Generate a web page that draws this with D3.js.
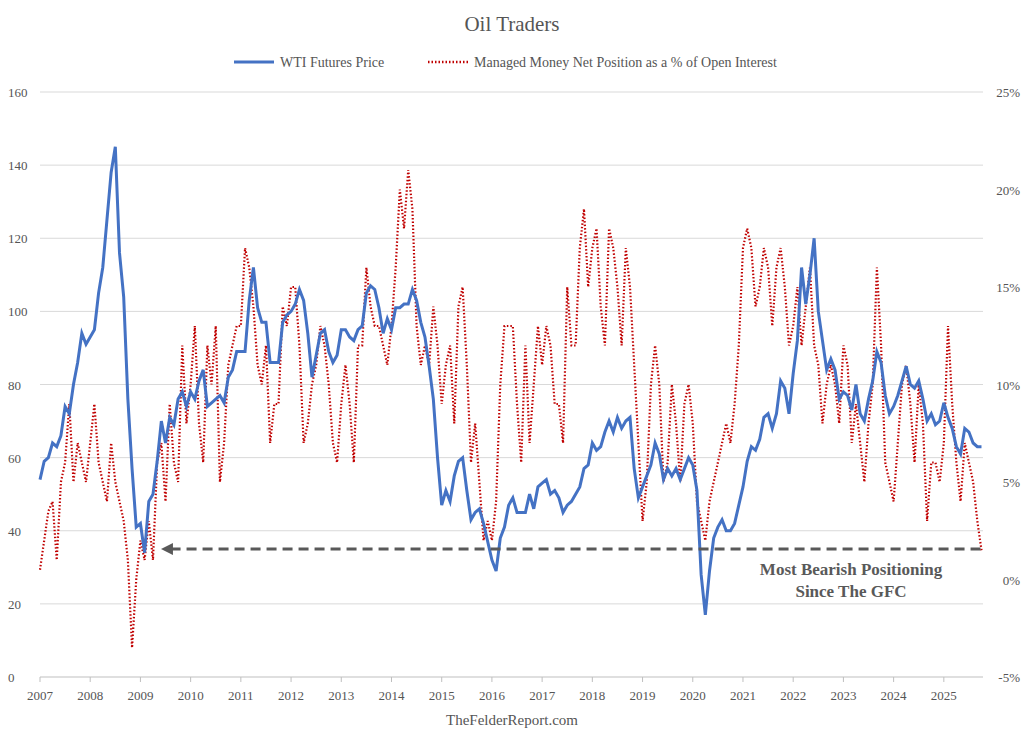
<!DOCTYPE html>
<html><head><meta charset="utf-8">
<script src="https://cdn.jsdelivr.net/npm/d3@7"></script>
<style>body{margin:0;background:#fff}text{font-family:"Liberation Serif","DejaVu Serif",serif}</style>
</head><body><svg id="c" width="1024" height="744"></svg>
<script>
const startYear = 2007;
const years = d3.range(2007, 2026);
const leftTicks = [0,20,40,60,80,100,120,140,160];
const rightTicks = [-5,0,5,10,15,20,25];
// monthly WTI futures price, Jan 2007 onward
const wti = [
54,59,60,64,63,66,74,72,80,86,94,91,
93,95,105,112,125,138,145,116,104,76,57,41,
42,34,48,50,59,70,64,71,69,76,78,74,
78,76,81,84,74,75,76,77,75,82,84,89,
89,89,103,112,101,97,97,86,86,86,97,99,
100,102,106,103,94,82,88,94,95,89,86,88,
95,95,93,92,95,96,105,107,106,101,94,98,
95,101,101,102,102,106,103,97,93,85,76,60,
47,51,48,55,59,60,51,43,45,46,42,37,
32,29,38,41,47,49,45,45,45,50,46,52,
53,54,50,51,49,45,47,48,50,52,57,58,
64,62,63,67,70,67,71,68,70,71,57,49,
52,55,58,64,61,54,57,55,57,54,57,60,
58,51,28,17,29,38,41,43,40,40,42,47,
52,59,63,62,65,71,72,68,72,81,79,72,
83,92,112,102,110,120,100,92,84,87,84,76,
78,77,73,80,72,70,76,81,89,86,77,72,
74,77,81,85,80,79,81,76,70,72,69,70,
75,71,68,63,61,68,67,64,63,63];
// monthly managed money net position, % of open interest
const mmPct = [
0.5,2,3.5,4,1,5,6,9,5,7,6,5,
7,9,6,5,4,7,5,4,3,1,-3.5,0,
2,1,3,1,6,7,4,9,6,5,12,8,
10,13,8,6,12,10,13,5,7,11,12,13,
13,17,16,14,11,10,12,7,9,9,14,13,
15,15,12,7,8,10,11,13,12,10,7,6,
9,11,9,6,12,12,16,14,13,13,12,11,
13,16,20,18,21,19,13,11,12,11,14,12,
9,11,12,8,14,15,11,6,8,5,2,3,
2,4,10,13,13,13,9,6,12,7,10,13,
11,13,12,9,9,7,15,12,12,17,19,15,
17,18,14,12,18,17,15,12,17,15,11,7,
3,5,10,12,10,5,6,10,8,5,9,10,
8,4,3,2,4,5,6,7,8,7,9,12,
17,18,17,14,15,17,16,13,16,17,15,12,
13,15,12,14,16,12,11,8,10,11,10,8,
12,11,7,9,7,5,8,10,16,12,6,5,
4,7,10,11,9,6,10,8,3,6,6,5,
7,13,9,6,4,7,6,5,3,1.5];
const arrowLevel = 35, arrowFrom = 2009.6;

const svg = d3.select("#c");
const L=40,R=983,T=92,B=677;
const x = d3.scaleLinear().domain([2007,2025.78]).range([L,R]);
const yL = d3.scaleLinear().domain([0,160]).range([B,T]);
const yR = d3.scaleLinear().domain([-5,25]).range([B,T]);
const t = i => startYear + i/12;

svg.append("text").attr("x",512).attr("y",31).attr("text-anchor","middle").attr("font-size",21).attr("fill","#555").text("Oil Traders");
// legend
svg.append("line").attr("x1",234).attr("x2",274).attr("y1",62).attr("y2",62).attr("stroke","#4472C4").attr("stroke-width",3);
svg.append("text").attr("x",280).attr("y",67).attr("font-size",14).attr("fill","#555").text("WTI Futures Price");
svg.append("line").attr("x1",428).attr("x2",468).attr("y1",62).attr("y2",62).attr("stroke","#C00000").attr("stroke-width",2.5).attr("stroke-dasharray","1.5,2");
svg.append("text").attr("x",474).attr("y",67).attr("font-size",14).attr("fill","#555").text("Managed Money Net Position as a % of Open Interest");

leftTicks.forEach(v=>{
  if(v>0) svg.append("line").attr("x1",L).attr("x2",R).attr("y1",yL(v)).attr("y2",yL(v)).attr("stroke","#d9d9d9");
  svg.append("text").attr("x",8).attr("y",yL(v)+5).attr("font-size",13).attr("fill","#555").text(v);
});
rightTicks.forEach(v=>svg.append("text").attr("x",1020).attr("y",yR(v)+5).attr("text-anchor","end").attr("font-size",13).attr("fill","#555").text(v+"%"));
svg.append("line").attr("x1",L).attr("x2",R).attr("y1",B).attr("y2",B).attr("stroke","#bfbfbf");
years.forEach(yv=>{
  svg.append("line").attr("x1",x(yv)).attr("x2",x(yv)).attr("y1",B).attr("y2",B+5).attr("stroke","#bfbfbf");
  svg.append("text").attr("x",x(yv)).attr("y",B+23).attr("text-anchor","middle").attr("font-size",13).attr("fill","#555").text(yv);
});

svg.append("path").datum(mmPct).attr("fill","none").attr("stroke","#C00000").attr("stroke-width",2.2).attr("stroke-dasharray","1.5,2")
  .attr("d",d3.line().x((d,i)=>x(t(i))).y(d=>yR(d)));
svg.append("path").datum(wti).attr("fill","none").attr("stroke","#4472C4").attr("stroke-width",3)
  .attr("d",d3.line().x((d,i)=>x(t(i))).y(d=>yL(d)));

svg.append("defs").append("marker").attr("id","ah").attr("viewBox","0 0 10 10").attr("refX",2).attr("refY",5)
  .attr("markerWidth",4).attr("markerHeight",4).attr("orient","auto-start-reverse").append("path").attr("d","M0,0L10,5L0,10z").attr("fill","#595959");
svg.append("line").attr("x1",x(arrowFrom)).attr("x2",R-2).attr("y1",yL(arrowLevel)).attr("y2",yL(arrowLevel))
  .attr("stroke","#595959").attr("stroke-width",3).attr("stroke-dasharray","10,6").attr("marker-start","url(#ah)");
svg.append("text").attr("x",851).attr("y",575).attr("text-anchor","middle").attr("font-size",17).attr("font-weight","bold").attr("fill","#595959").text("Most Bearish Positioning");
svg.append("text").attr("x",851).attr("y",597).attr("text-anchor","middle").attr("font-size",17).attr("font-weight","bold").attr("fill","#595959").text("Since The GFC");
svg.append("text").attr("x",512).attr("y",725).attr("text-anchor","middle").attr("font-size",15).attr("fill","#555").text("TheFelderReport.com");
</script></body></html>
